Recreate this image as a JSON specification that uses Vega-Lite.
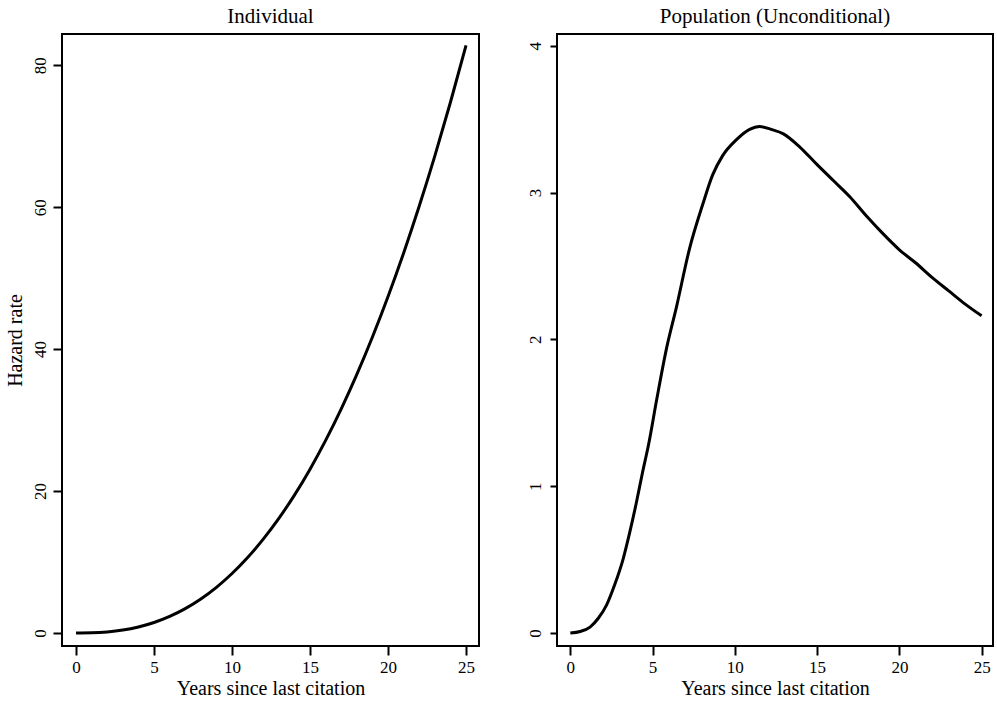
{
  "$schema": "https://vega.github.io/schema/vega-lite/v6.json",
  "padding": {"left": 4, "top": 5, "right": 0, "bottom": 0},
  "background": "white",
  "spacing": 45,
  "config": {
    "font": "Liberation Serif",
    "view": {"stroke": "black", "strokeWidth": 2},
    "axis": {
      "labelFont": "Liberation Serif",
      "titleFont": "Liberation Serif",
      "labelFontSize": 17,
      "titleFontSize": 20,
      "labelColor": "black",
      "titleColor": "black",
      "titleFontWeight": "normal",
      "tickColor": "black",
      "tickWidth": 2,
      "tickSize": 9,
      "domain": false,
      "grid": false,
      "labelPadding": 4
    },
    "title": {"font": "Liberation Serif", "fontSize": 21, "fontWeight": "normal", "color": "black", "offset": 7}
  },
  "datasets": {
    "individual": [
      {"t": 0, "h": 0}, {"t": 1, "h": 0.03}, {"t": 2, "h": 0.15}, {"t": 3, "h": 0.41},
      {"t": 4, "h": 0.85}, {"t": 5, "h": 1.48}, {"t": 6, "h": 2.34}, {"t": 7, "h": 3.44},
      {"t": 8, "h": 4.8}, {"t": 9, "h": 6.44}, {"t": 10, "h": 8.38}, {"t": 11, "h": 10.63},
      {"t": 12, "h": 13.22}, {"t": 13, "h": 16.15}, {"t": 14, "h": 19.43}, {"t": 15, "h": 23.09},
      {"t": 16, "h": 27.14}, {"t": 17, "h": 31.58}, {"t": 18, "h": 36.43}, {"t": 19, "h": 41.7},
      {"t": 20, "h": 47.4}, {"t": 21, "h": 53.55}, {"t": 22, "h": 60.16}, {"t": 23, "h": 67.23},
      {"t": 24, "h": 74.78}, {"t": 25, "h": 82.8}
    ],
    "population": [
      {"t": 0, "h": 0}, {"t": 0.6, "h": 0.01}, {"t": 1.2, "h": 0.04}, {"t": 1.7, "h": 0.1},
      {"t": 2.2, "h": 0.19}, {"t": 2.7, "h": 0.33}, {"t": 3.2, "h": 0.5}, {"t": 3.6, "h": 0.68},
      {"t": 4.0, "h": 0.88}, {"t": 4.4, "h": 1.1}, {"t": 4.75, "h": 1.28}, {"t": 5.25, "h": 1.59},
      {"t": 5.85, "h": 1.94}, {"t": 6.45, "h": 2.22}, {"t": 7.25, "h": 2.62}, {"t": 8.05, "h": 2.92},
      {"t": 8.65, "h": 3.12}, {"t": 9.25, "h": 3.25}, {"t": 10.1, "h": 3.36}, {"t": 10.9, "h": 3.43},
      {"t": 11.5, "h": 3.45}, {"t": 12.2, "h": 3.43}, {"t": 12.95, "h": 3.4}, {"t": 13.95, "h": 3.31},
      {"t": 15.0, "h": 3.19}, {"t": 16.0, "h": 3.08}, {"t": 17.0, "h": 2.97}, {"t": 18.0, "h": 2.84},
      {"t": 19.0, "h": 2.72}, {"t": 20.0, "h": 2.61}, {"t": 21.0, "h": 2.52}, {"t": 22.0, "h": 2.42},
      {"t": 23.0, "h": 2.33}, {"t": 24.0, "h": 2.24}, {"t": 25.0, "h": 2.16}
    ]
  },
  "hconcat": [
    {
      "title": "Individual",
      "width": 417,
      "height": 612,
      "data": {"name": "individual"},
      "mark": {"type": "line", "color": "black", "strokeWidth": 3, "interpolate": "monotone"},
      "encoding": {
        "x": {"field": "t", "type": "quantitative", "title": "Years since last citation",
              "scale": {"domain": [-0.9, 25.83], "nice": false, "zero": false},
              "axis": {"values": [0, 5, 10, 15, 20, 25], "titlePadding": 3}},
        "y": {"field": "h", "type": "quantitative", "title": "Hazard rate",
              "scale": {"domain": [-1.83, 84.4], "nice": false, "zero": false},
              "axis": {"values": [0, 20, 40, 60, 80], "labelAngle": -90, "titlePadding": 6}}
      }
    },
    {
      "title": "Population (Unconditional)",
      "width": 436,
      "height": 612,
      "data": {"name": "population"},
      "mark": {"type": "line", "color": "black", "strokeWidth": 3, "interpolate": "monotone"},
      "encoding": {
        "x": {"field": "t", "type": "quantitative", "title": "Years since last citation",
              "scale": {"domain": [-0.81, 25.69], "nice": false, "zero": false},
              "axis": {"values": [0, 5, 10, 15, 20, 25], "titlePadding": 3}},
        "y": {"field": "h", "type": "quantitative", "title": null,
              "scale": {"domain": [-0.089, 4.08], "nice": false, "zero": false},
              "axis": {"values": [0, 1, 2, 3, 4], "labelAngle": -90, "tickSize": 7, "labelPadding": 6}}
      }
    }
  ]
}
